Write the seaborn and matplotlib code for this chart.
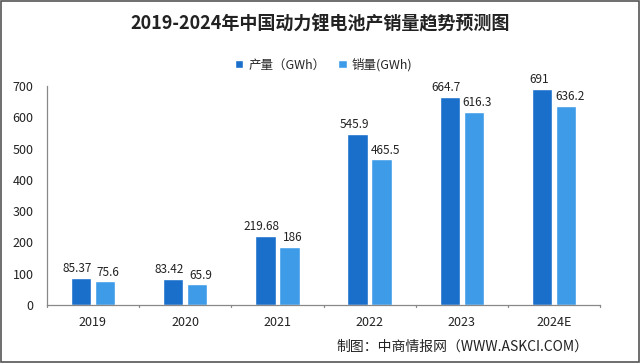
import matplotlib
matplotlib.use("Agg")
import matplotlib.pyplot as plt
import seaborn as sns
import pandas as pd

years = ["2019", "2020", "2021", "2022", "2023", "2024E"]
production = [85.37, 83.42, 219.68, 545.9, 664.7, 691]
sales = [75.6, 65.9, 186, 465.5, 616.3, 636.2]
prod_labels = ["85.37", "83.42", "219.68", "545.9", "664.7", "691"]
sales_labels = ["75.6", "65.9", "186", "465.5", "616.3", "636.2"]
series = ["产量（GWh）", "销量(GWh)"]
yticks = [0, 100, 200, 300, 400, 500, 600, 700]

sns.set_theme(style="white")
plt.rcParams['font.family'] = ['Noto Sans CJK SC', 'DejaVu Sans']

df = pd.DataFrame({
    "year": years * 2,
    "value": production + sales,
    "series": [series[0]] * len(years) + [series[1]] * len(years),
})

colors = ["#1A6FCB", "#3D9BE8"]
fig = plt.figure(figsize=(6.4, 3.63), dpi=100)
ax = fig.add_axes([0.073, 0.16, 0.865, 0.603])
sns.barplot(data=df, x="year", y="value", hue="series", palette=colors,
            width=0.52, gap=0.15, ax=ax, legend=True, saturation=1)

for cont, labs, dx in zip(ax.containers, [prod_labels, sales_labels], [-2.5, 2.5]):
    for bar, lab in zip(cont, labs):
        ax.annotate(lab, (bar.get_x() + bar.get_width() / 2, bar.get_height()),
                    xytext=(dx, 2), textcoords="offset points", ha="center", va="bottom",
                    fontsize=8.5, color="#222222")

ax.set_xlim(-0.5, 5.5)
ax.set_ylim(0, 700)
ax.set_yticks(yticks)
ax.set_yticklabels([str(t) for t in yticks], fontsize=9, color="#222222")
ax.set_xlabel("")
ax.set_ylabel("")
ax.tick_params(axis="x", labelsize=9, colors="#222222", length=0, pad=8)
for sp in ["top", "right"]:
    ax.spines[sp].set_visible(False)
for sp in ["left", "bottom"]:
    ax.spines[sp].set_color("#888888")
    ax.spines[sp].set_linewidth(0.9)
# category boundary ticks
for b in [-0.5, 0.5, 1.5, 2.5, 3.5, 4.5, 5.5]:
    ax.plot([b, b], [0, -7], color="#888888", lw=0.9, clip_on=False)

leg = ax.legend(loc="upper center", bbox_to_anchor=(0.5, 1.18), ncol=2, frameon=False,
                fontsize=9, handlelength=0.7, handleheight=0.7, columnspacing=1.0,
                handletextpad=0.4)

fig.text(0.5, 0.935, "2019-2024年中国动力锂电池产销量趋势预测图", ha="center", va="center",
         fontsize=13, fontweight="bold", color="#222222")
fig.text(0.92, 0.045, "制图：中商情报网（WWW.ASKCI.COM）", ha="right", va="center",
         fontsize=10, color="#222222")

border = plt.Rectangle((0.002, 0.004), 0.996, 0.992, transform=fig.transFigure,
                       fill=False, edgecolor="#555555", lw=1.2)
fig.patches.append(border)

fig.savefig("out.png", dpi=100)
